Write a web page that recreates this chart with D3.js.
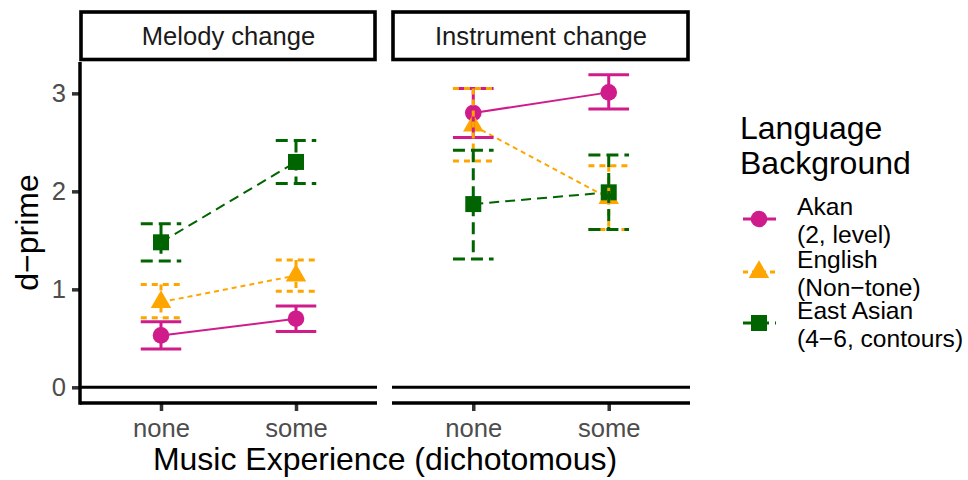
<!DOCTYPE html>
<html>
<head>
<meta charset="utf-8">
<script src="https://cdn.jsdelivr.net/npm/d3@7"></script>
<style>
  body { margin: 0; background: #fff; }
  svg text { font-family: "Liberation Sans", Arial, sans-serif; }
</style>
</head>
<body>
<div id="chart"></div>
<script>
// categories
const experience = ["none", "some"];
const panels = ["Melody change", "Instrument change"];
const languages = ["Akan", "English", "East Asian"];
const languageLabels = [["Akan", "(2, level)"], ["English", "(Non\u2212tone)"], ["East Asian", "(4\u22126, contours)"]];
const yTicks = [0, 1, 2, 3];

// values per language (rows) and experience (columns)
const meanMelody = [[0.53, 0.70], [0.87, 1.14], [1.48, 2.30]];
const lowMelody  = [[0.39, 0.57], [0.71, 0.98], [1.29, 2.08]];
const highMelody = [[0.67, 0.83], [1.05, 1.30], [1.67, 2.52]];

const meanInstrument = [[2.80, 3.01], [2.67, 1.93], [1.87, 1.99]];
const lowInstrument  = [[2.55, 2.84], [2.31, 1.61], [1.31, 1.61]];
const highInstrument = [[3.05, 3.19], [3.05, 2.26], [2.42, 2.37]];

const width = 968, height = 480;
const colors = ["#D01C8B", "#FFA500", "#006400"];
const lineDash = [null, "5,4", "10,6"];
const barDash = [null, "6,5", "12,6"];

const svg = d3.select("#chart").append("svg")
    .attr("width", width)
    .attr("height", height);

const panelX = [[80, 377], [392, 690]];
const panelTop = 62, panelBottom = 403;

const yScale = d3.scaleLinear()
    .domain([-0.16, 3.32])
    .range([panelBottom, panelTop]);

const tables = [
    [meanMelody, lowMelody, highMelody],
    [meanInstrument, lowInstrument, highInstrument]
];

// point shapes
const symbolPath = (i) => {
    if (i === 0) return d3.symbol(d3.symbolCircle, Math.PI * 8.3 * 8.3)();
    if (i === 2) return d3.symbol(d3.symbolSquare, 16 * 16)();
    // R style triangle, centroid at the point
    const u = 7.6;
    return `M0,${-1.555 * u}L${1.347 * u},${0.778 * u}L${-1.347 * u},${0.778 * u}Z`;
};

panels.forEach((name, p) => {
    const [x0, x1] = panelX[p];
    const xScale = d3.scalePoint().domain(experience).range([x0, x1]).padding(0.6);
    const step = xScale.step();
    const [means, lows, highs] = tables[p];
    const g = svg.append("g");

    // strip
    g.append("rect")
        .attr("x", x0 + 1).attr("y", 12)
        .attr("width", x1 - x0 - 3).attr("height", 47.5)
        .attr("fill", "#fff").attr("stroke", "#000").attr("stroke-width", 3.6);
    g.append("text")
        .attr("x", (x0 + x1) / 2).attr("y", 45)
        .attr("text-anchor", "middle")
        .attr("font-size", 25.6)
        .attr("fill", "#1a1a1a")
        .text(name);

    // zero line
    g.append("line")
        .attr("x1", x0).attr("x2", x1)
        .attr("y1", yScale(0)).attr("y2", yScale(0))
        .attr("stroke", "#000").attr("stroke-width", 3);

    // lines
    languages.forEach((lang, i) => {
        g.append("path")
            .datum(experience.map((e, j) => [xScale(e), yScale(means[i][j])]))
            .attr("d", d3.line())
            .attr("fill", "none")
            .attr("stroke", colors[i])
            .attr("stroke-width", 2)
            .attr("stroke-dasharray", lineDash[i]);
    });

    // points
    languages.forEach((lang, i) => {
        experience.forEach((e, j) => {
            g.append("path")
                .attr("d", symbolPath(i))
                .attr("transform", `translate(${xScale(e)},${yScale(means[i][j])})`)
                .attr("fill", colors[i]);
        });
    });

    // error bars
    const half = step * 0.15;
    languages.forEach((lang, i) => {
        experience.forEach((e, j) => {
            const x = xScale(e), lo = yScale(lows[i][j]), hi = yScale(highs[i][j]);
            g.append("path")
                .attr("d", `M${x - half},${hi}H${x + half}M${x},${hi}V${lo}M${x - half},${lo}H${x + half}`)
                .attr("fill", "none")
                .attr("stroke", colors[i])
                .attr("stroke-width", 3)
                .attr("stroke-dasharray", barDash[i]);
        });
    });

    // x axis
    const xAxis = g.append("g")
        .attr("transform", `translate(0,${panelBottom})`)
        .call(d3.axisBottom(xScale).tickSize(8).tickPadding(8));
    xAxis.select(".domain").remove();
    xAxis.append("line")
        .attr("x1", x0).attr("x2", x1)
        .attr("stroke", "#000").attr("stroke-width", 3.5);
    xAxis.selectAll(".tick line").attr("stroke", "#333").attr("stroke-width", 3.5);
    xAxis.selectAll(".tick text")
        .attr("font-size", 25.6).attr("fill", "#4d4d4d")
        .attr("font-family", "Liberation Sans, Arial, sans-serif");

    if (p === 0) {
        const yAxis = g.append("g")
            .attr("transform", `translate(${x0},0)`)
            .call(d3.axisLeft(yScale).tickValues(yTicks).tickFormat(d3.format("d"))
                .tickSize(8).tickPadding(6));
        yAxis.select(".domain").remove();
        yAxis.append("line")
            .attr("y1", panelTop).attr("y2", panelBottom + 1.75)
            .attr("stroke", "#000").attr("stroke-width", 3.5);
        yAxis.selectAll(".tick line").attr("stroke", "#333").attr("stroke-width", 3.5);
        yAxis.selectAll(".tick text")
            .attr("font-size", 25.6).attr("fill", "#4d4d4d")
            .attr("font-family", "Liberation Sans, Arial, sans-serif");
    }
});

// axis titles
svg.append("text")
    .attr("x", (panelX[0][0] + panelX[1][1]) / 2)
    .attr("y", 470)
    .attr("text-anchor", "middle")
    .attr("font-size", 32)
    .text("Music Experience (dichotomous)");

svg.append("text")
    .attr("transform", `translate(38,${(panelTop + panelBottom) / 2}) rotate(-90)`)
    .attr("text-anchor", "middle")
    .attr("font-size", 32)
    .text("d\u2212prime");

// legend
const legend = svg.append("g").attr("transform", "translate(740,0)");
legend.append("text").attr("x", 0).attr("y", 139).attr("font-size", 32).text("Language");
legend.append("text").attr("x", 0).attr("y", 174).attr("font-size", 32).text("Background");

const keyY = [219, 272, 323];
languages.forEach((lang, i) => {
    const k = legend.append("g").attr("transform", `translate(0,${keyY[i]})`);
    k.append("line")
        .attr("x1", 3).attr("x2", 36)
        .attr("stroke", colors[i]).attr("stroke-width", 2.8)
        .attr("stroke-dasharray", lineDash[i]);
    k.append("path")
        .attr("d", symbolPath(i))
        .attr("transform", "translate(19,0)")
        .attr("fill", colors[i]);
    languageLabels[i].forEach((t, r) => {
        k.append("text")
            .attr("x", 57).attr("y", -4 + r * 28)
            .attr("font-size", 24.6)
            .text(t);
    });
});
</script>
</body>
</html>
